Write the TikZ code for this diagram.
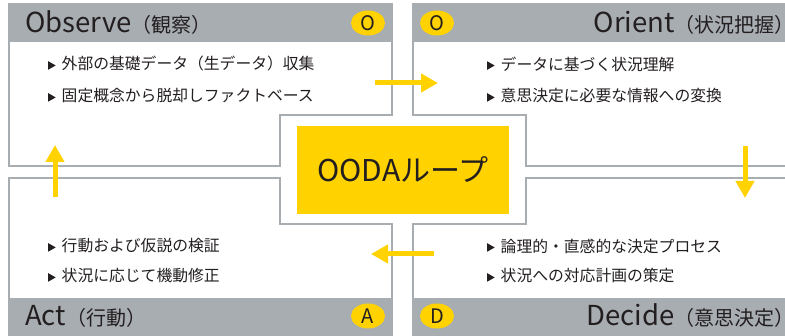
\documentclass[tikz,border=0pt]{standalone}
\usepackage{fontspec}
\setmainfont{Noto Sans CJK JP}
\usetikzlibrary{shapes.geometric,arrows.meta}
\definecolor{panelgray}{HTML}{A8ADB2}
\definecolor{oodayellow}{HTML}{FFD200}
\definecolor{inkdark}{HTML}{231F20}
\newcommand{\bultri}{\tikz[baseline=0pt]\fill[inkdark] (0pt,0.3pt)--(0pt,8.8pt)--(7.5pt,4.55pt)--cycle;\hspace{6pt}}
\newcommand{\hdr}[2]{{\fontsize{27.5}{30}\selectfont #1}{\fontsize{20}{22}\selectfont #2}}
\newcommand{\hdrR}[2]{{\fontsize{27.5}{30}\selectfont #1}{\fontsize{20}{22}\selectfont #2\kern-13pt}}
\tikzset{
  panelline/.style={draw=panelgray, line width=2.5pt, fill=white},
  headfill/.style={fill=panelgray},
  badge/.style={ellipse, fill=oodayellow, minimum width=34pt, minimum height=25pt, inner sep=0pt, text=inkdark, font=\fontsize{20}{21}\selectfont},
  bullettext/.style={anchor=west, inner sep=0pt, text=inkdark, font=\fontsize{15.8}{17}\selectfont},
  headtext/.style={inner sep=0pt, text=inkdark},
  flow/.style={draw=oodayellow, line width=5pt, -{Triangle[length=17pt,width=18pt]}},
  centerbox/.style={fill=oodayellow, minimum width=212pt, minimum height=88pt, inner sep=0pt, text=inkdark, font=\fontsize{30}{32}\selectfont}
}
\begin{document}
\begin{tikzpicture}[x=1pt,y=-1pt]
\useasboundingbox (0,0) rectangle (785,336);
\fill[white] (0,0) rectangle (785,336);
\clip (0,0) rectangle (785,336);
% Observe panel
\draw[panelline] (9,4) -- (392,4) -- (392,115) -- (280,115) -- (280,166) -- (9,166) -- cycle;
\fill[headfill] (9,4) rectangle (392,42);
% Orient panel
\draw[panelline] (413,4) -- (800,4) -- (800,166) -- (526,166) -- (526,115) -- (413,115) -- cycle;
\fill[headfill] (413,4) rectangle (800,42);
% Act panel
\draw[panelline] (9,178) -- (280,178) -- (280,224) -- (392,224) -- (392,335) -- (9,335) -- cycle;
\fill[headfill] (9,298) rectangle (392,335);
% Decide panel
\draw[panelline] (526,178) -- (800,178) -- (800,335) -- (413,335) -- (413,224) -- (526,224) -- cycle;
\fill[headfill] (413,298) rectangle (800,335);
% headers
\node[headtext, anchor=west] (hobs) at (25,23) {\hdr{Observe}{（観察）}};
\node[headtext, anchor=east] (hori) at (782,23) {\hdrR{Orient}{（状況把握）}};
\node[headtext, anchor=west] (hact) at (25,316) {\hdr{Act}{（行動）}};
\node[headtext, anchor=east] (hdec) at (782,316) {\hdrR{Decide}{（意思決定）}};
% badges
\node[badge] (bobs) at (368,23) {O};
\node[badge] (bori) at (437,23) {O};
\node[badge] (bact) at (368,316) {A};
\node[badge] (bdec) at (437,316) {D};
% bullets
\node[bullettext] (o1) at (48,64) {\bultri 外部の基礎データ（生データ）収集};
\node[bullettext] (o2) at (48,96) {\bultri 固定概念から脱却しファクトベース};
\node[bullettext] (r1) at (487,64) {\bultri データに基づく状況理解};
\node[bullettext] (r2) at (487,96) {\bultri 意思決定に必要な情報への変換};
\node[bullettext] (a1) at (48,246) {\bultri 行動および仮説の検証};
\node[bullettext] (a2) at (48,276) {\bultri 状況に応じて機動修正};
\node[bullettext] (d1) at (487,246) {\bultri 論理的・直感的な決定プロセス};
\node[bullettext] (d2) at (487,276) {\bultri 状況への対応計画の策定};
% center
\node[centerbox] (ooda) at (403,170) {OODAループ};
% arrows
\coordinate (f1s) at (375,83);
\coordinate (f1e) at (438,83);
\coordinate (f2s) at (745,146);
\coordinate (f2e) at (745,198);
\coordinate (f3s) at (434,254);
\coordinate (f3e) at (371,254);
\coordinate (f4s) at (55,197);
\coordinate (f4e) at (55,145);
\draw[flow] (f1s) -- (f1e);
\draw[flow] (f2s) -- (f2e);
\draw[flow] (f3s) -- (f3e);
\draw[flow] (f4s) -- (f4e);
\end{tikzpicture}
\end{document}
